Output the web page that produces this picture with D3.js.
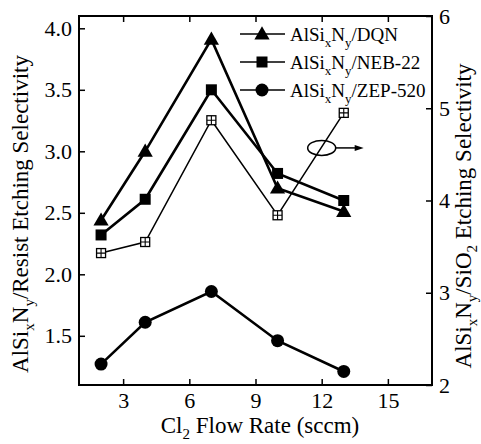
<!DOCTYPE html>
<html>
<head>
<meta charset="utf-8">
<script src="https://cdn.jsdelivr.net/npm/d3@7"></script>
<style>
  body { margin: 0; background: #fff; }
  svg text { font-family: 'Liberation Serif', 'Times New Roman', Times, 'DejaVu Serif', serif; fill: #000; }
</style>
</head>
<body>
<svg id="chart" width="481" height="444"></svg>
<script>
// values
const flowRates = [2, 4, 7, 10, 13]
const dqn = [2.44, 3.0, 3.91, 2.70, 2.51]
const neb22 = [2.32, 2.61, 3.50, 2.82, 2.60]
const zep520 = [1.27, 1.61, 1.86, 1.46, 1.21]
const sio2 = [3.43, 3.55, 4.87, 3.84, 4.95]

const xTicks = [3, 6, 9, 12, 15]
const leftTicks = [1.5, 2.0, 2.5, 3.0, 3.5, 4.0]
const rightTicks = [2, 3, 4, 5, 6]
const legendNames = ['DQN', 'NEB-22', 'ZEP-520']

const serif = "'Liberation Serif', 'Times New Roman', serif"
const margin = { top: 16, right: 49, bottom: 59, left: 79 }
const width = 481 - margin.left - margin.right
const height = 444 - margin.top - margin.bottom

const svg = d3.select('#chart').attr('font-family', serif)
const g = svg.append('g')
  .attr('transform', 'translate(' + margin.left + ',' + margin.top + ')')

const x = d3.scaleLinear().domain([1, 17]).range([0, width])
const yL = d3.scaleLinear().domain([1.1, 4.1]).range([height, 0])
const yR = d3.scaleLinear().domain([2, 6]).range([height, 0])

/**
 * Draws an axis with inward ticks, major labels and unlabelled minor ticks.
 */
function drawAxis (axisFn, scale, major, minor, fmt, transform, showLabels) {
  const ax = g.append('g').attr('transform', transform)
  ax.call(axisFn(scale).tickValues(minor).tickSize(-4).tickFormat(''))
  ax.call(axisFn(scale).tickValues(major).tickSize(-6).tickPadding(7)
    .tickFormat(showLabels ? fmt : ''))
  ax.attr('font-family', serif)
  ax.selectAll('.domain').remove()
  ax.selectAll('line').attr('stroke', '#000').attr('stroke-width', 1.5)
  ax.selectAll('text').attr('font-size', 22)
  return ax
}

const xMinor = d3.range(1.5, 17, 1.5).filter(v => !xTicks.includes(v))
const lMinor = d3.range(1.25, 4.1, 0.25).filter(v => !leftTicks.some(t => Math.abs(t - v) < 1e-6))
const rMinor = d3.range(2.5, 6, 1)

drawAxis(d3.axisBottom, x, xTicks, xMinor, d3.format('d'), 'translate(0,' + height + ')', true)
drawAxis(d3.axisTop, x, xTicks, xMinor, d3.format('d'), 'translate(0,0)', false)
drawAxis(d3.axisLeft, yL, leftTicks, lMinor, d3.format('.1f'), 'translate(0,0)', true)
drawAxis(d3.axisRight, yR, rightTicks, rMinor, d3.format('d'), 'translate(' + width + ',0)', true)

// frame
g.append('rect')
  .attr('width', width).attr('height', height)
  .attr('fill', 'none').attr('stroke', '#000').attr('stroke-width', 2)

const tri = d3.symbol().type(d3.symbolTriangle).size(100)

function drawSeries (vals, yScale, lw) {
  const pts = flowRates.map((f, i) => [x(f), yScale(vals[i])])
  g.append('path')
    .attr('d', d3.line()(pts))
    .attr('fill', 'none').attr('stroke', '#000').attr('stroke-width', lw)
  return pts
}

function marker (sel, kind, cx, cy) {
  if (kind === 'tri') {
    sel.append('path').attr('d', tri).attr('transform', 'translate(' + cx + ',' + (cy + 1) + ')')
  } else if (kind === 'sq') {
    sel.append('rect').attr('x', cx - 5.5).attr('y', cy - 5.5).attr('width', 11).attr('height', 11)
  } else if (kind === 'circ') {
    sel.append('circle').attr('cx', cx).attr('cy', cy).attr('r', 6.5)
  } else {
    sel.append('rect').attr('x', cx - 4.5).attr('y', cy - 4.5).attr('width', 9).attr('height', 9)
      .attr('fill', '#fff').attr('stroke', '#000').attr('stroke-width', 1.3)
    sel.append('path')
      .attr('d', 'M' + (cx - 4.5) + ',' + cy + 'H' + (cx + 4.5) + 'M' + cx + ',' + (cy - 4.5) + 'V' + (cy + 4.5))
      .attr('stroke', '#000').attr('stroke-width', 1.1)
  }
}

const series = [
  { vals: dqn, y: yL, lw: 2.6, kind: 'tri' },
  { vals: neb22, y: yL, lw: 2.6, kind: 'sq' },
  { vals: zep520, y: yL, lw: 2.6, kind: 'circ' },
  { vals: sio2, y: yR, lw: 1.5, kind: 'hatch' }
]
series.forEach(s => { s.pts = drawSeries(s.vals, s.y, s.lw) })
series.forEach(s => {
  const mg = g.append('g').attr('fill', '#000')
  s.pts.forEach(p => marker(mg, s.kind, p[0], p[1]))
})

// legend
const legend = g.append('g').attr('transform', 'translate(161,18)')
legendNames.forEach((name, i) => {
  const row = legend.append('g').attr('transform', 'translate(0,' + (i * 28) + ')')
  row.append('line').attr('x1', 0).attr('x2', 45).attr('y1', 0).attr('y2', 0)
    .attr('stroke', '#000').attr('stroke-width', 1.6)
  marker(row, ['tri', 'sq', 'circ'][i], 22, 0)
  const t = row.append('text').attr('x', 50).attr('y', 7).attr('font-size', 19)
  t.append('tspan').text('AlSi')
  t.append('tspan').text('x').attr('font-size', 13).attr('dy', 6)
  t.append('tspan').text('N').attr('dy', -6)
  t.append('tspan').text('y').attr('font-size', 13).attr('dy', 6)
  t.append('tspan').text('/' + name).attr('dy', -6)
})

// ellipse with arrow pointing to right axis
const ex = x(12), ey = yR(4.57)
g.append('ellipse')
  .attr('cx', ex).attr('cy', ey).attr('rx', 14).attr('ry', 7.5)
  .attr('fill', 'none').attr('stroke', '#000').attr('stroke-width', 1.5)
g.append('line')
  .attr('x1', ex + 14).attr('x2', ex + 34).attr('y1', ey).attr('y2', ey)
  .attr('stroke', '#000').attr('stroke-width', 1.5)
g.append('path')
  .attr('d', 'M' + (ex + 42) + ',' + ey + 'l-9,-3v6z')

// axis titles
function subTitle (parent, parts) {
  const t = parent.append('text').attr('font-size', 23).attr('text-anchor', 'middle')
  parts.forEach(p => {
    if (p.sub) {
      t.append('tspan').text(p.sub).attr('font-size', 15).attr('dy', 6)
    } else {
      t.append('tspan').text(p.t).attr('dy', p.back ? -6 : 0)
    }
  })
  return t
}

subTitle(svg, [{ t: 'Cl' }, { sub: '2' }, { t: ' Flow Rate (sccm)', back: true }])
  .attr('transform', 'translate(260,433)')

subTitle(svg, [{ t: 'AlSi' }, { sub: 'x' }, { t: 'N', back: true }, { sub: 'y' },
  { t: '/Resist Etching Selectivity', back: true }])
  .attr('transform', 'translate(28,214) rotate(-90)')

subTitle(svg, [{ t: 'AlSi' }, { sub: 'x' }, { t: 'N', back: true }, { sub: 'y' },
  { t: '/SiO', back: true }, { sub: '2' }, { t: ' Etching Selectivity', back: true }])
  .attr('transform', 'translate(471,216) rotate(-90)')
</script>
</body>
</html>
